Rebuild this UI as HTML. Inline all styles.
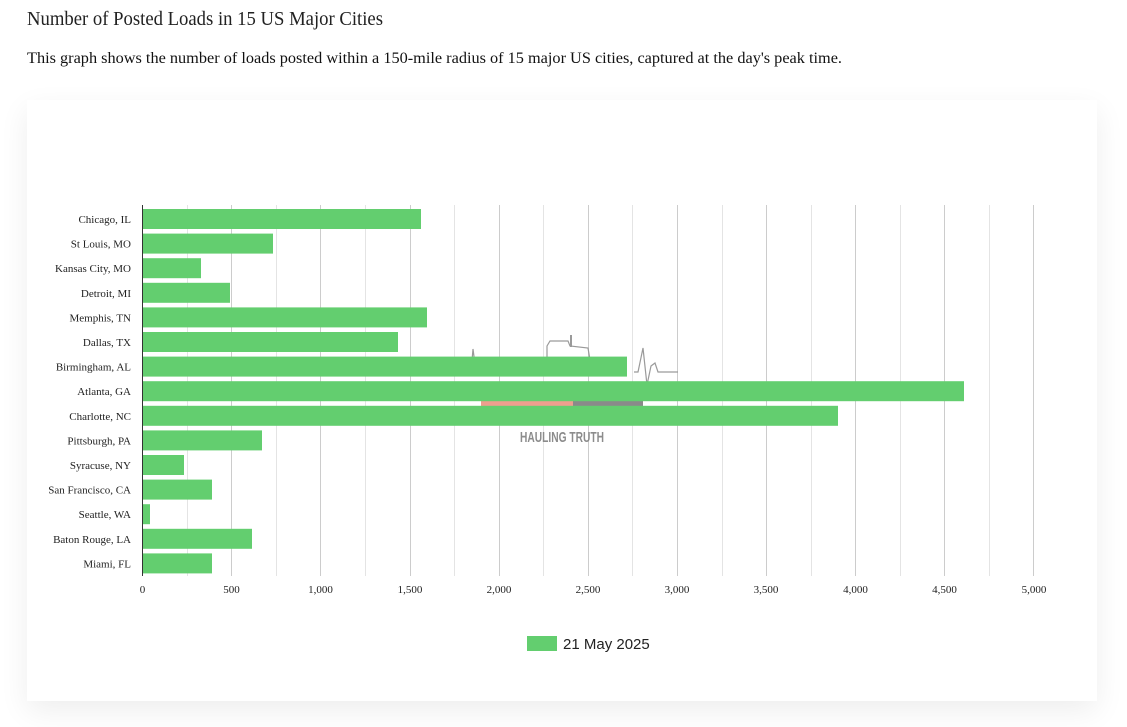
<!DOCTYPE html>
<html>
<head>
<meta charset="utf-8">
<style>
  html,body{margin:0;padding:0;background:#fff;}
  body{width:1127px;height:727px;position:relative;overflow:hidden;}
  .card{position:absolute;left:27px;top:100px;width:1070px;height:601px;background:#fff;
        box-shadow:0 10px 28px rgba(0,0,0,0.07);}
  svg{position:absolute;left:0;top:0;}
</style>
</head>
<body>
<div class="card"></div>
<svg width="1127" height="727" viewBox="0 0 1127 727" xmlns="http://www.w3.org/2000/svg">
  <!-- Title & subtitle -->
  <text x="27" y="25" font-family="Liberation Serif, serif" font-size="20" fill="#222" textLength="356" lengthAdjust="spacingAndGlyphs">Number of Posted Loads in 15 US Major Cities</text>
  <text x="27" y="63" font-family="Liberation Serif, serif" font-size="15.5" fill="#111" textLength="815" lengthAdjust="spacingAndGlyphs">This graph shows the number of loads posted within a 150-mile radius of 15 major US cities, captured at the day's peak time.</text>

  <!-- gridlines -->
  <g stroke-width="1">
    <line x1="187.5" y1="205" x2="187.5" y2="576" stroke="#e4e4e4"/>
    <line x1="231.5" y1="205" x2="231.5" y2="576" stroke="#cccccc"/>
    <line x1="276.5" y1="205" x2="276.5" y2="576" stroke="#e4e4e4"/>
    <line x1="320.5" y1="205" x2="320.5" y2="576" stroke="#cccccc"/>
    <line x1="365.5" y1="205" x2="365.5" y2="576" stroke="#e4e4e4"/>
    <line x1="410.5" y1="205" x2="410.5" y2="576" stroke="#cccccc"/>
    <line x1="454.5" y1="205" x2="454.5" y2="576" stroke="#e4e4e4"/>
    <line x1="499.5" y1="205" x2="499.5" y2="576" stroke="#cccccc"/>
    <line x1="543.5" y1="205" x2="543.5" y2="576" stroke="#e4e4e4"/>
    <line x1="588.5" y1="205" x2="588.5" y2="576" stroke="#cccccc"/>
    <line x1="632.5" y1="205" x2="632.5" y2="576" stroke="#e4e4e4"/>
    <line x1="677.5" y1="205" x2="677.5" y2="576" stroke="#cccccc"/>
    <line x1="722.5" y1="205" x2="722.5" y2="576" stroke="#e4e4e4"/>
    <line x1="766.5" y1="205" x2="766.5" y2="576" stroke="#cccccc"/>
    <line x1="811.5" y1="205" x2="811.5" y2="576" stroke="#e4e4e4"/>
    <line x1="855.5" y1="205" x2="855.5" y2="576" stroke="#cccccc"/>
    <line x1="900.5" y1="205" x2="900.5" y2="576" stroke="#e4e4e4"/>
    <line x1="944.5" y1="205" x2="944.5" y2="576" stroke="#cccccc"/>
    <line x1="989.5" y1="205" x2="989.5" y2="576" stroke="#e4e4e4"/>
    <line x1="1033.5" y1="205" x2="1033.5" y2="576" stroke="#cccccc"/>
  </g>

  <!-- watermark -->
  <g fill="none" stroke="#9a9a9a" stroke-width="1.2">
    <polyline points="468,372 471,372 473,349 476,372 480,372"/>
    <polyline points="547,372 547,346 550,341 568,341 570,346 588,348 590,360"/>
    <line x1="571" y1="335" x2="571" y2="347" stroke-width="2"/>
    <polyline points="634,372 638,372 643,348 647,385 651,366 655,363 658,372 678,372"/>
  </g>
  <g fill="none" stroke="#aaa" stroke-width="1">
    <circle cx="512" cy="386" r="3.5"/><circle cx="522" cy="386" r="3.5"/>
    <circle cx="603" cy="386" r="3.5"/>
  </g>
  <rect x="481" y="399" width="92" height="10" fill="#ee9f8e"/>
  <rect x="573" y="399" width="70" height="10" fill="#8a8a8a"/>
  <text x="520" y="442" font-family="Liberation Sans, sans-serif" font-weight="bold" font-size="15" fill="#8c8c8c" textLength="84" lengthAdjust="spacingAndGlyphs">HAULING TRUTH</text>

  <!-- bars -->
  <g fill="#63ce6f">
    <rect x="143" y="209" width="278" height="20"/>
    <rect x="143" y="233.6" width="130" height="20"/>
    <rect x="143" y="258.2" width="58" height="20"/>
    <rect x="143" y="282.8" width="87" height="20"/>
    <rect x="143" y="307.4" width="284" height="20"/>
    <rect x="143" y="332" width="255" height="20"/>
    <rect x="143" y="356.6" width="484" height="20"/>
    <rect x="143" y="381.2" width="821" height="20"/>
    <rect x="143" y="405.8" width="695" height="20"/>
    <rect x="143" y="430.4" width="119" height="20"/>
    <rect x="143" y="455" width="41" height="20"/>
    <rect x="143" y="479.6" width="69" height="20"/>
    <rect x="143" y="504.2" width="7" height="20"/>
    <rect x="143" y="528.8" width="109" height="20"/>
    <rect x="143" y="553.4" width="69" height="20"/>
  </g>

  <!-- axis line -->
  <line x1="142.5" y1="205" x2="142.5" y2="576" stroke="#333" stroke-width="1"/>

  <!-- category labels -->
  <g font-family="Liberation Serif, serif" font-size="11" fill="#222" text-anchor="end">
    <text x="131" y="223">Chicago, IL</text>
    <text x="131" y="247.6">St Louis, MO</text>
    <text x="131" y="272.2">Kansas City, MO</text>
    <text x="131" y="296.8">Detroit, MI</text>
    <text x="131" y="321.4">Memphis, TN</text>
    <text x="131" y="346">Dallas, TX</text>
    <text x="131" y="370.6">Birmingham, AL</text>
    <text x="131" y="395.2">Atlanta, GA</text>
    <text x="131" y="419.8">Charlotte, NC</text>
    <text x="131" y="444.4">Pittsburgh, PA</text>
    <text x="131" y="469">Syracuse, NY</text>
    <text x="131" y="493.6">San Francisco, CA</text>
    <text x="131" y="518.2">Seattle, WA</text>
    <text x="131" y="542.8">Baton Rouge, LA</text>
    <text x="131" y="567.4">Miami, FL</text>
  </g>

  <!-- tick labels -->
  <g font-family="Liberation Serif, serif" font-size="11" fill="#222" text-anchor="middle">
    <text x="142.5" y="593">0</text>
    <text x="231.5" y="593">500</text>
    <text x="320.5" y="593">1,000</text>
    <text x="410" y="593">1,500</text>
    <text x="499" y="593">2,000</text>
    <text x="588" y="593">2,500</text>
    <text x="677" y="593">3,000</text>
    <text x="766" y="593">3,500</text>
    <text x="855.5" y="593">4,000</text>
    <text x="944.5" y="593">4,500</text>
    <text x="1034" y="593">5,000</text>
  </g>

  <!-- legend -->
  <rect x="527" y="636" width="30" height="15" fill="#63ce6f"/>
  <text x="563" y="649" font-family="Liberation Sans, sans-serif" font-size="15" fill="#222">21 May 2025</text>
</svg>
</body>
</html>
